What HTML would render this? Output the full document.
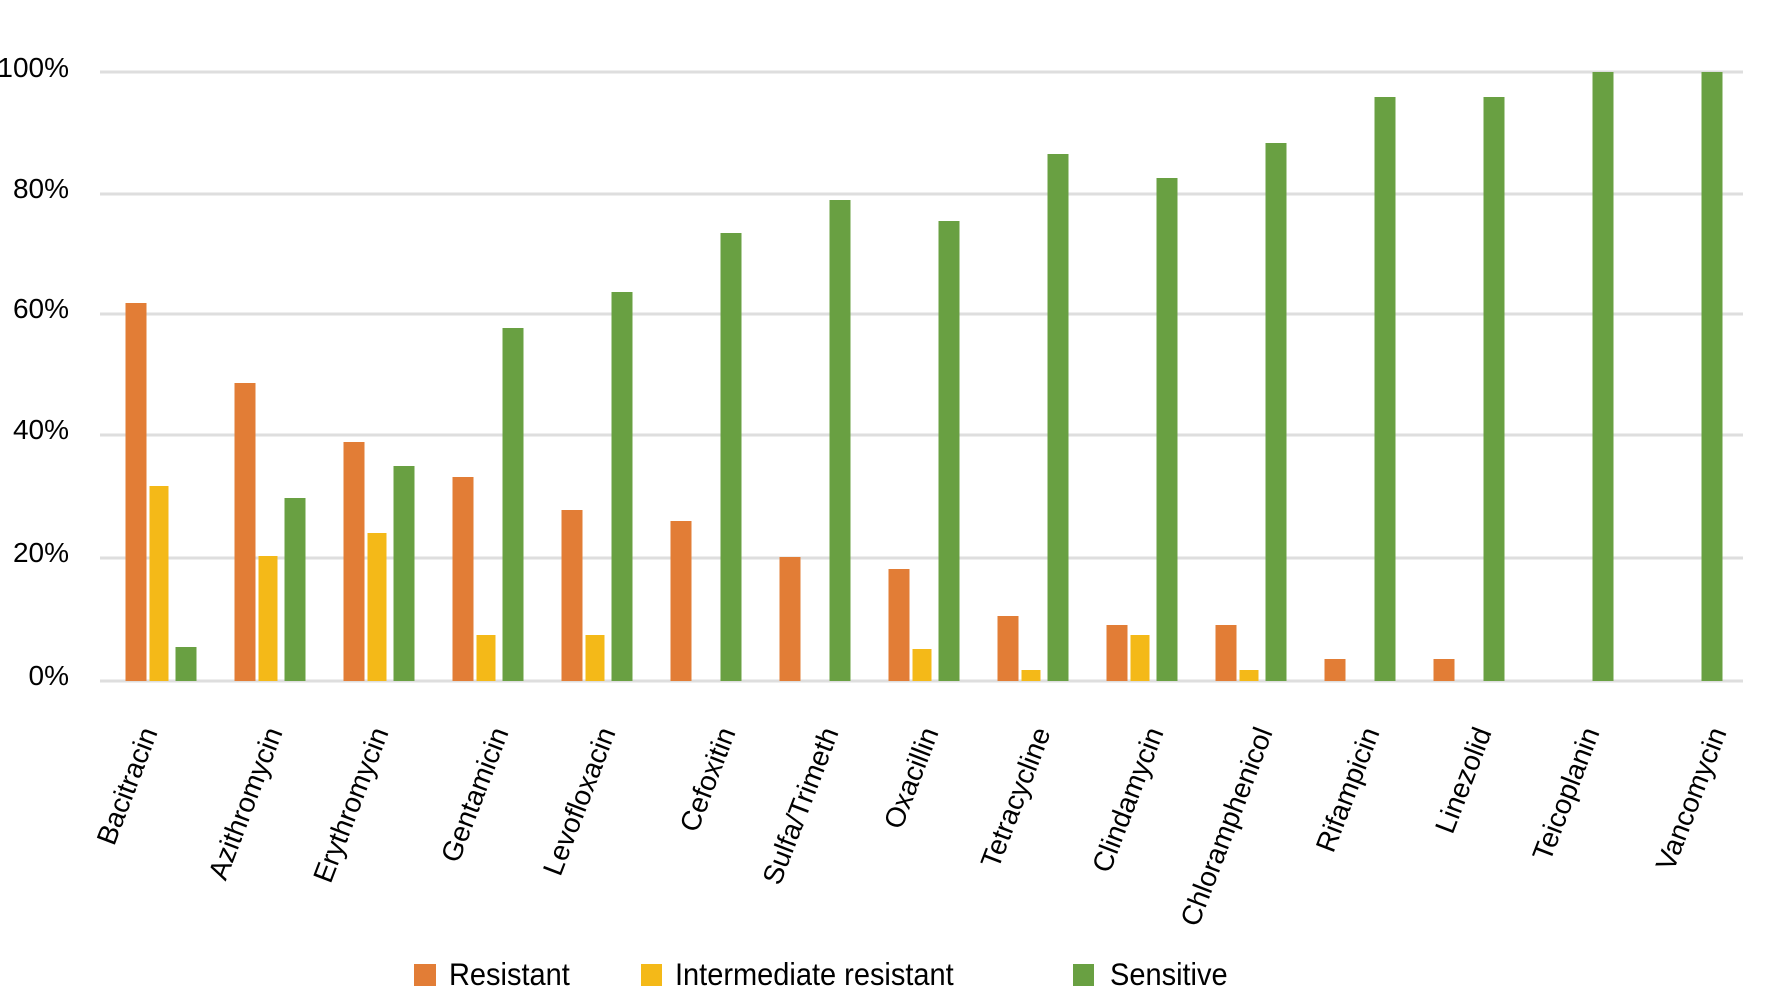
<!DOCTYPE html>
<html>
<head>
<meta charset="utf-8">
<style>
html,body{margin:0;padding:0;background:#fff;}
svg{display:block;}
text{font-family:"Liberation Sans",Arial,sans-serif;fill:#000;}
</style>
</head>
<body>
<svg width="1766" height="1000" viewBox="0 0 1766 1000" xmlns="http://www.w3.org/2000/svg">
<rect width="1766" height="1000" fill="#fff"/>
<!-- gridlines -->
<g stroke="#dedede" stroke-width="3">
<line x1="100" y1="72" x2="1743" y2="72"/>
<line x1="100" y1="194" x2="1743" y2="194"/>
<line x1="100" y1="314" x2="1743" y2="314"/>
<line x1="100" y1="435" x2="1743" y2="435"/>
<line x1="100" y1="558" x2="1743" y2="558"/>
<line x1="100" y1="681" x2="1743" y2="681"/>
</g>
<!-- y labels -->
<g font-size="28" text-anchor="end">
<text x="69" y="77">100%</text>
<text x="69" y="198">80%</text>
<text x="69" y="318">60%</text>
<text x="69" y="439">40%</text>
<text x="69" y="562">20%</text>
<text x="69" y="685">0%</text>
</g>
<!-- bars -->
<g id="bars">
<rect x="125.5" y="303" width="21" height="378" fill="#E27D36"/>
<rect x="149.5" y="486" width="19" height="195" fill="#F4B918"/>
<rect x="175.5" y="647" width="21" height="34" fill="#69A042"/>
<rect x="234.5" y="383" width="21" height="298" fill="#E27D36"/>
<rect x="258.5" y="556" width="19" height="125" fill="#F4B918"/>
<rect x="284.5" y="498" width="21" height="183" fill="#69A042"/>
<rect x="343.5" y="442" width="21" height="239" fill="#E27D36"/>
<rect x="367.5" y="533" width="19" height="148" fill="#F4B918"/>
<rect x="393.5" y="466" width="21" height="215" fill="#69A042"/>
<rect x="452.5" y="477" width="21" height="204" fill="#E27D36"/>
<rect x="476.5" y="635" width="19" height="46" fill="#F4B918"/>
<rect x="502.5" y="328" width="21" height="353" fill="#69A042"/>
<rect x="561.5" y="510" width="21" height="171" fill="#E27D36"/>
<rect x="585.5" y="635" width="19" height="46" fill="#F4B918"/>
<rect x="611.5" y="292" width="21" height="389" fill="#69A042"/>
<rect x="670.5" y="521" width="21" height="160" fill="#E27D36"/>
<rect x="720.5" y="233" width="21" height="448" fill="#69A042"/>
<rect x="779.5" y="557" width="21" height="124" fill="#E27D36"/>
<rect x="829.5" y="200" width="21" height="481" fill="#69A042"/>
<rect x="888.5" y="569" width="21" height="112" fill="#E27D36"/>
<rect x="912.5" y="649" width="19" height="32" fill="#F4B918"/>
<rect x="938.5" y="221" width="21" height="460" fill="#69A042"/>
<rect x="997.5" y="616" width="21" height="65" fill="#E27D36"/>
<rect x="1021.5" y="670" width="19" height="11" fill="#F4B918"/>
<rect x="1047.5" y="154" width="21" height="527" fill="#69A042"/>
<rect x="1106.5" y="625" width="21" height="56" fill="#E27D36"/>
<rect x="1130.5" y="635" width="19" height="46" fill="#F4B918"/>
<rect x="1156.5" y="178" width="21" height="503" fill="#69A042"/>
<rect x="1215.5" y="625" width="21" height="56" fill="#E27D36"/>
<rect x="1239.5" y="670" width="19" height="11" fill="#F4B918"/>
<rect x="1265.5" y="143" width="21" height="538" fill="#69A042"/>
<rect x="1324.5" y="659" width="21" height="22" fill="#E27D36"/>
<rect x="1374.5" y="97" width="21" height="584" fill="#69A042"/>
<rect x="1433.5" y="659" width="21" height="22" fill="#E27D36"/>
<rect x="1483.5" y="97" width="21" height="584" fill="#69A042"/>
<rect x="1592.5" y="72" width="21" height="609" fill="#69A042"/>
<rect x="1701.5" y="72" width="21" height="609" fill="#69A042"/>
</g>
<!-- x labels -->
<g font-size="28" text-anchor="end">
<text transform="translate(158,732) rotate(-69)">Bacitracin</text>
<text transform="translate(283,732) rotate(-69)">Azithromycin</text>
<text transform="translate(389,732) rotate(-69)">Erythromycin</text>
<text transform="translate(509,732) rotate(-69)">Gentamicin</text>
<text transform="translate(616,732) rotate(-69)">Levofloxacin</text>
<text transform="translate(736,732) rotate(-69)">Cefoxitin</text>
<text transform="translate(839,732) rotate(-69)">Sulfa/Trimeth</text>
<text transform="translate(939,732) rotate(-69)">Oxacillin</text>
<text transform="translate(1051,732) rotate(-69)">Tetracycline</text>
<text transform="translate(1164,732) rotate(-69)">Clindamycin</text>
<text transform="translate(1273,732) rotate(-69)">Chloramphenicol</text>
<text transform="translate(1380,732) rotate(-69)">Rifampicin</text>
<text transform="translate(1492,732) rotate(-69)">Linezolid</text>
<text transform="translate(1600,732) rotate(-69)">Teicoplanin</text>
<text transform="translate(1727,732) rotate(-69)">Vancomycin</text>
</g>
<!-- legend -->
<rect x="414" y="964" width="22" height="22" fill="#E27D36"/>
<rect x="641" y="964" width="21" height="22" fill="#F4B918"/>
<rect x="1073" y="964" width="21" height="22" fill="#69A042"/>
<g font-size="29">
<text transform="translate(449,985) scale(1,1.1)">Resistant</text>
<text transform="translate(675,985) scale(1,1.1)">Intermediate resistant</text>
<text transform="translate(1110,985) scale(1,1.1)">Sensitive</text>
</g>
</svg>
</body>
</html>
